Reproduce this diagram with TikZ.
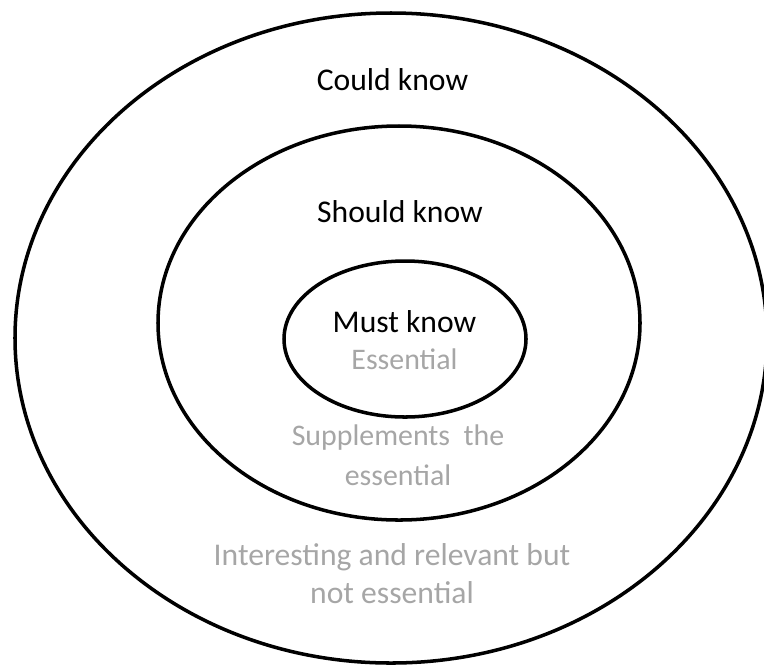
\documentclass[tikz,border=0pt]{standalone}
\usepackage{fontspec}
\setmainfont{Carlito}
\definecolor{softgray}{RGB}{166, 166, 166}
\usetikzlibrary{shapes.geometric, positioning}

\begin{document}
\begin{tikzpicture}[
  ring/.style={draw=black, line width=2pt, ellipse, inner sep=0pt},
  head/.style={font=\fontsize{18}{21}\selectfont, text=black, inner sep=1pt},
  note/.style={font=\fontsize{17}{22.7}\selectfont, text=softgray, align=center, inner sep=1pt}
]
  \useasboundingbox (0, 0) rectangle (15.28, -13.3);
  \node[ring, minimum width=15.04cm, minimum height=13.0cm] (could) at (7.82, -6.76) {};
  \node[ring, minimum width=9.64cm, minimum height=7.88cm] (should) at (7.98, -6.46) {};
  \node[ring, minimum width=4.84cm, minimum height=3.12cm] (must) at (8.1, -6.78) {};
  \node[head] (couldlbl) at (7.85, -1.6) {Could know};
  \node[head] (shouldlbl) at (8.0, -4.24) {Should know};
  \node[head] (mustlbl) at (8.09, -6.44) {Must know};
  \node[note] (mustnote) at (8.09, -7.18) {Essential};
  \node[note] (shouldnote) at (7.96, -9.1) {Supplements\ \ the\\essential};
  \node[note, font=\fontsize{18}{21.5}\selectfont] (couldnote) at (7.84, -11.48) {Interesting and relevant but\\not essential};
\end{tikzpicture}
\end{document}
